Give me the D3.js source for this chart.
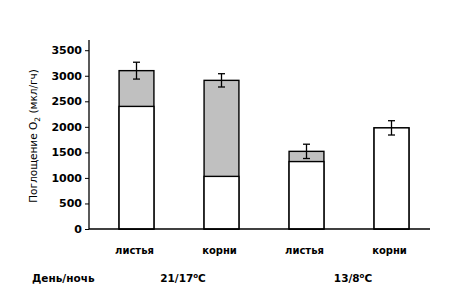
<!DOCTYPE html>
<html>
<head>
<meta charset="utf-8">
<script src="https://cdn.jsdelivr.net/npm/d3@7"></script>
<style>
  body { margin: 0; background: #fff; }
  svg { display: block; }
</style>
</head>
<body>
<svg id="chart" width="471" height="308"></svg>
<script>
// bars: листья/корни at two day/night regimes
const categories = ['листья', 'корни', 'листья', 'корни']
const baseValues = [2400, 1030, 1320, 1980]     // white part
const totalValues = [3100, 2910, 1520, 1980]    // top of stacked bar
const errValues = [165, 130, 140, 140]
const yTicks = [0, 500, 1000, 1500, 2000, 2500, 3000, 3500]
const groups = ['21/17', '13/8']

var svg = d3.select('#chart')
var font = 'DejaVu Sans, Verdana, sans-serif'

var x = d3.scaleBand()
    .domain(d3.range(categories.length))
    .range([94, 434])
    .paddingInner(0.59)
    .paddingOuter(0.295)

var y = d3.scaleLinear()
    .domain([0, 3700])
    .range([229, 40])

// y axis
let yAxis = svg.append('g')
    .attr('transform', 'translate(89,0)')
    .call(d3.axisLeft(y).tickValues(yTicks).tickFormat(d3.format('d')).tickSize(4).tickPadding(3))
yAxis.select('.domain').remove()
yAxis.append('line')
    .attr('y1', y(0)).attr('y2', y(3700))
    .attr('stroke', '#000').attr('stroke-width', 1.3)
yAxis.selectAll('.tick line').attr('stroke', '#000')
yAxis.selectAll('.tick text')
    .attr('font-family', font)
    .attr('font-size', 11)
    .attr('font-weight', 'bold')
    .attr('fill', '#000')

let bars = svg.selectAll('.bar')
    .data(categories)
    .enter()
    .append('g')
    .attr('class', 'bar')

bars.append('rect')
    .attr('x', (d, i) => x(i))
    .attr('width', x.bandwidth())
    .attr('y', (d, i) => y(totalValues[i]))
    .attr('height', (d, i) => y(0) - y(totalValues[i]))
    .attr('fill', '#c0c0c0')
    .attr('stroke', '#000')
    .attr('stroke-width', 1.4)

bars.append('rect')
    .attr('x', (d, i) => x(i))
    .attr('width', x.bandwidth())
    .attr('y', (d, i) => y(baseValues[i]))
    .attr('height', (d, i) => y(0) - y(baseValues[i]))
    .attr('fill', '#fff')
    .attr('stroke', '#000')
    .attr('stroke-width', 1.4)

// error bars
bars.each(function(d, i) {
    let g = d3.select(this)
    let cx = x(i) + x.bandwidth() / 2
    let top = y(totalValues[i] + errValues[i])
    let bot = y(totalValues[i] - errValues[i])
    g.append('line')
        .attr('x1', cx).attr('x2', cx).attr('y1', top).attr('y2', bot)
        .attr('stroke', '#000').attr('stroke-width', 1.3)
    ;[top, bot].forEach(yy => {
        g.append('line')
            .attr('x1', cx - 3.5).attr('x2', cx + 3.5).attr('y1', yy).attr('y2', yy)
            .attr('stroke', '#000').attr('stroke-width', 1.3)
    })
})

// x axis line
svg.append('line')
    .attr('x1', 89).attr('x2', 430)
    .attr('y1', y(0)).attr('y2', y(0))
    .attr('stroke', '#000').attr('stroke-width', 1.3)

// category labels
svg.selectAll('.cat')
    .data(categories)
    .enter()
    .append('text')
    .attr('class', 'cat')
    .attr('x', (d, i) => x(i) + x.bandwidth() / 2 - 2)
    .attr('y', 254)
    .attr('text-anchor', 'middle')
    .attr('font-family', font)
    .attr('font-size', 10)
    .attr('font-weight', 'bold')
    .text(d => d)

svg.append('text')
    .attr('x', 32).attr('y', 282)
    .attr('font-family', font)
    .attr('font-size', 10.5)
    .attr('font-weight', 'bold')
    .text('День/ночь')

groups.forEach((g, k) => {
    let cx = (x(2 * k) + x(2 * k + 1) + x.bandwidth()) / 2 + 4
    let t = svg.append('text')
        .attr('x', cx).attr('y', 282)
        .attr('text-anchor', 'middle')
        .attr('font-family', font)
        .attr('font-size', 10.5)
        .attr('font-weight', 'bold')
    t.append('tspan').text(g)
    t.append('tspan').attr('dy', -4).attr('font-size', 7).text('o')
    t.append('tspan').attr('dy', 4).text('C')
})

// y label
let yl = svg.append('text')
    .attr('transform', 'translate(37,136) rotate(-90)')
    .attr('text-anchor', 'middle')
    .attr('font-family', font)
    .attr('font-size', 10.5)
yl.append('tspan').text('Поглощение O')
yl.append('tspan').attr('dy', 3).attr('font-size', 7.5).text('2')
yl.append('tspan').attr('dy', -3).text(' (мкл/гч)')
</script>
</body>
</html>
